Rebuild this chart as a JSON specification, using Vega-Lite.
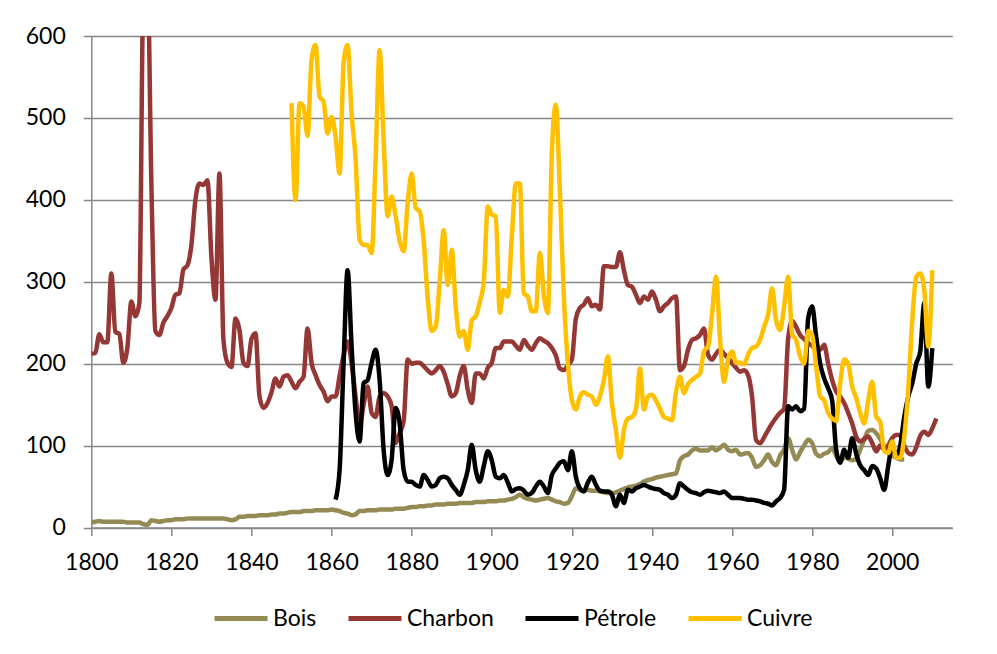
{
  "$schema": "https://vega.github.io/schema/vega-lite/v6.json",
  "width": 861,
  "height": 491.5,
  "autosize": {"type": "none"},
  "padding": {"left": 91.3, "top": 36, "right": 44.7, "bottom": 126.5},
  "background": "white",
  "config": {
    "font": "Lato",
    "view": {"stroke": null},
    "axis": {
      "labelFont": "Lato", "labelFontSize": 23, "labelColor": "#000000",
      "domainColor": "#868686", "domainWidth": 1.5,
      "tickColor": "#868686", "tickWidth": 1.5, "tickSize": 8,
      "gridColor": "#868686", "gridWidth": 1.5, "gridOpacity": 1,
      "title": null
    },
    "legend": {"labelFont": "Lato", "labelFontSize": 23, "labelColor": "#000000"}
  },
  "data": {"values": [
{"a":1800,"s":"Bois","v":6},{"a":1801,"s":"Bois","v":7},{"a":1802,"s":"Bois","v":8},{"a":1803,"s":"Bois","v":7},{"a":1804,"s":"Bois","v":7},{"a":1805,"s":"Bois","v":7},{"a":1806,"s":"Bois","v":7},{"a":1807,"s":"Bois","v":7},{"a":1808,"s":"Bois","v":7},{"a":1809,"s":"Bois","v":6},
{"a":1810,"s":"Bois","v":6},{"a":1811,"s":"Bois","v":6},{"a":1812,"s":"Bois","v":6},{"a":1813,"s":"Bois","v":4},{"a":1814,"s":"Bois","v":3},{"a":1815,"s":"Bois","v":9},{"a":1816,"s":"Bois","v":8},{"a":1817,"s":"Bois","v":7},{"a":1818,"s":"Bois","v":8},{"a":1819,"s":"Bois","v":9},
{"a":1820,"s":"Bois","v":9},{"a":1821,"s":"Bois","v":10},{"a":1822,"s":"Bois","v":10},{"a":1823,"s":"Bois","v":10},{"a":1824,"s":"Bois","v":11},{"a":1825,"s":"Bois","v":11},{"a":1826,"s":"Bois","v":11},{"a":1827,"s":"Bois","v":11},{"a":1828,"s":"Bois","v":11},{"a":1829,"s":"Bois","v":11},
{"a":1830,"s":"Bois","v":11},{"a":1831,"s":"Bois","v":11},{"a":1832,"s":"Bois","v":11},{"a":1833,"s":"Bois","v":11},{"a":1834,"s":"Bois","v":10},{"a":1835,"s":"Bois","v":9},{"a":1836,"s":"Bois","v":10},{"a":1837,"s":"Bois","v":13},{"a":1838,"s":"Bois","v":13},{"a":1839,"s":"Bois","v":14},
{"a":1840,"s":"Bois","v":14},{"a":1841,"s":"Bois","v":14},{"a":1842,"s":"Bois","v":15},{"a":1843,"s":"Bois","v":15},{"a":1844,"s":"Bois","v":15},{"a":1845,"s":"Bois","v":16},{"a":1846,"s":"Bois","v":16},{"a":1847,"s":"Bois","v":17},{"a":1848,"s":"Bois","v":17},{"a":1849,"s":"Bois","v":18},
{"a":1850,"s":"Bois","v":19},{"a":1851,"s":"Bois","v":19},{"a":1852,"s":"Bois","v":19},{"a":1853,"s":"Bois","v":20},{"a":1854,"s":"Bois","v":20},{"a":1855,"s":"Bois","v":20},{"a":1856,"s":"Bois","v":21},{"a":1857,"s":"Bois","v":21},{"a":1858,"s":"Bois","v":21},{"a":1859,"s":"Bois","v":21},
{"a":1860,"s":"Bois","v":22},{"a":1861,"s":"Bois","v":21},{"a":1862,"s":"Bois","v":20},{"a":1863,"s":"Bois","v":18},{"a":1864,"s":"Bois","v":17},{"a":1865,"s":"Bois","v":15},{"a":1866,"s":"Bois","v":16},{"a":1867,"s":"Bois","v":20},{"a":1868,"s":"Bois","v":20},{"a":1869,"s":"Bois","v":21},
{"a":1870,"s":"Bois","v":21},{"a":1871,"s":"Bois","v":21},{"a":1872,"s":"Bois","v":22},{"a":1873,"s":"Bois","v":22},{"a":1874,"s":"Bois","v":22},{"a":1875,"s":"Bois","v":22},{"a":1876,"s":"Bois","v":23},{"a":1877,"s":"Bois","v":23},{"a":1878,"s":"Bois","v":23},{"a":1879,"s":"Bois","v":24},
{"a":1880,"s":"Bois","v":25},{"a":1881,"s":"Bois","v":25},{"a":1882,"s":"Bois","v":26},{"a":1883,"s":"Bois","v":26},{"a":1884,"s":"Bois","v":27},{"a":1885,"s":"Bois","v":27},{"a":1886,"s":"Bois","v":28},{"a":1887,"s":"Bois","v":28},{"a":1888,"s":"Bois","v":28},{"a":1889,"s":"Bois","v":29},
{"a":1890,"s":"Bois","v":29},{"a":1891,"s":"Bois","v":29},{"a":1892,"s":"Bois","v":30},{"a":1893,"s":"Bois","v":30},{"a":1894,"s":"Bois","v":30},{"a":1895,"s":"Bois","v":30},{"a":1896,"s":"Bois","v":31},{"a":1897,"s":"Bois","v":31},{"a":1898,"s":"Bois","v":31},{"a":1899,"s":"Bois","v":32},
{"a":1900,"s":"Bois","v":32},{"a":1901,"s":"Bois","v":32},{"a":1902,"s":"Bois","v":33},{"a":1903,"s":"Bois","v":33},{"a":1904,"s":"Bois","v":34},{"a":1905,"s":"Bois","v":35},{"a":1906,"s":"Bois","v":37},{"a":1907,"s":"Bois","v":40},{"a":1908,"s":"Bois","v":37},{"a":1909,"s":"Bois","v":35},
{"a":1910,"s":"Bois","v":34},{"a":1911,"s":"Bois","v":33},{"a":1912,"s":"Bois","v":34},{"a":1913,"s":"Bois","v":35},{"a":1914,"s":"Bois","v":36},{"a":1915,"s":"Bois","v":34},{"a":1916,"s":"Bois","v":32},{"a":1917,"s":"Bois","v":31},{"a":1918,"s":"Bois","v":29},{"a":1919,"s":"Bois","v":30},
{"a":1920,"s":"Bois","v":38},{"a":1921,"s":"Bois","v":48},{"a":1922,"s":"Bois","v":46},{"a":1923,"s":"Bois","v":45},{"a":1924,"s":"Bois","v":46},{"a":1925,"s":"Bois","v":45},{"a":1926,"s":"Bois","v":45},{"a":1927,"s":"Bois","v":44},{"a":1928,"s":"Bois","v":43},{"a":1929,"s":"Bois","v":42},
{"a":1930,"s":"Bois","v":42},{"a":1931,"s":"Bois","v":43},{"a":1932,"s":"Bois","v":45},{"a":1933,"s":"Bois","v":47},{"a":1934,"s":"Bois","v":49},{"a":1935,"s":"Bois","v":50},{"a":1936,"s":"Bois","v":51},{"a":1937,"s":"Bois","v":53},{"a":1938,"s":"Bois","v":56},{"a":1939,"s":"Bois","v":58},
{"a":1940,"s":"Bois","v":59},{"a":1941,"s":"Bois","v":61},{"a":1942,"s":"Bois","v":62},{"a":1943,"s":"Bois","v":63},{"a":1944,"s":"Bois","v":64},{"a":1945,"s":"Bois","v":65},{"a":1946,"s":"Bois","v":66},{"a":1947,"s":"Bois","v":82},{"a":1948,"s":"Bois","v":87},{"a":1949,"s":"Bois","v":89},
{"a":1950,"s":"Bois","v":94},{"a":1951,"s":"Bois","v":96},{"a":1952,"s":"Bois","v":94},{"a":1953,"s":"Bois","v":94},{"a":1954,"s":"Bois","v":94},{"a":1955,"s":"Bois","v":98},{"a":1956,"s":"Bois","v":94},{"a":1957,"s":"Bois","v":97},{"a":1958,"s":"Bois","v":101},{"a":1959,"s":"Bois","v":95},
{"a":1960,"s":"Bois","v":93},{"a":1961,"s":"Bois","v":95},{"a":1962,"s":"Bois","v":89},{"a":1963,"s":"Bois","v":90},{"a":1964,"s":"Bois","v":91},{"a":1965,"s":"Bois","v":85},{"a":1966,"s":"Bois","v":74},{"a":1967,"s":"Bois","v":76},{"a":1968,"s":"Bois","v":82},{"a":1969,"s":"Bois","v":89},
{"a":1970,"s":"Bois","v":80},{"a":1971,"s":"Bois","v":76},{"a":1972,"s":"Bois","v":88},{"a":1973,"s":"Bois","v":95},{"a":1974,"s":"Bois","v":109},{"a":1975,"s":"Bois","v":95},{"a":1976,"s":"Bois","v":83},{"a":1977,"s":"Bois","v":92},{"a":1978,"s":"Bois","v":100},{"a":1979,"s":"Bois","v":107},
{"a":1980,"s":"Bois","v":103},{"a":1981,"s":"Bois","v":90},{"a":1982,"s":"Bois","v":87},{"a":1983,"s":"Bois","v":90},{"a":1984,"s":"Bois","v":92},{"a":1985,"s":"Bois","v":97},{"a":1986,"s":"Bois","v":88},{"a":1987,"s":"Bois","v":80},{"a":1988,"s":"Bois","v":86},{"a":1989,"s":"Bois","v":84},
{"a":1990,"s":"Bois","v":82},{"a":1991,"s":"Bois","v":84},{"a":1992,"s":"Bois","v":95},{"a":1993,"s":"Bois","v":107},{"a":1994,"s":"Bois","v":118},{"a":1995,"s":"Bois","v":119},{"a":1996,"s":"Bois","v":115},{"a":1997,"s":"Bois","v":108},{"a":1998,"s":"Bois","v":99},{"a":1999,"s":"Bois","v":92},
{"a":2000,"s":"Bois","v":88},{"a":2001,"s":"Bois","v":85},{"a":2002,"s":"Bois","v":83},{"a":2003,"s":"Bois","v":83},
{"a":1800,"s":"Charbon","v":212},{"a":1801,"s":"Charbon","v":213},{"a":1802,"s":"Charbon","v":236},{"a":1803,"s":"Charbon","v":226},{"a":1804,"s":"Charbon","v":226},{"a":1805,"s":"Charbon","v":310},{"a":1806,"s":"Charbon","v":239},{"a":1807,"s":"Charbon","v":236},{"a":1808,"s":"Charbon","v":201},{"a":1809,"s":"Charbon","v":219},
{"a":1810,"s":"Charbon","v":276},{"a":1811,"s":"Charbon","v":258},{"a":1812,"s":"Charbon","v":274},{"a":1813,"s":"Charbon","v":660},{"a":1814,"s":"Charbon","v":680},{"a":1815,"s":"Charbon","v":420},{"a":1816,"s":"Charbon","v":240},{"a":1817,"s":"Charbon","v":235},{"a":1818,"s":"Charbon","v":250},{"a":1819,"s":"Charbon","v":258},
{"a":1820,"s":"Charbon","v":268},{"a":1821,"s":"Charbon","v":284},{"a":1822,"s":"Charbon","v":286},{"a":1823,"s":"Charbon","v":315},{"a":1824,"s":"Charbon","v":320},{"a":1825,"s":"Charbon","v":345},{"a":1826,"s":"Charbon","v":400},{"a":1827,"s":"Charbon","v":420},{"a":1828,"s":"Charbon","v":418},{"a":1829,"s":"Charbon","v":424},
{"a":1830,"s":"Charbon","v":330},{"a":1831,"s":"Charbon","v":278},{"a":1832,"s":"Charbon","v":432},{"a":1833,"s":"Charbon","v":229},{"a":1834,"s":"Charbon","v":201},{"a":1835,"s":"Charbon","v":196},{"a":1836,"s":"Charbon","v":255},{"a":1837,"s":"Charbon","v":241},{"a":1838,"s":"Charbon","v":201},{"a":1839,"s":"Charbon","v":197},
{"a":1840,"s":"Charbon","v":230},{"a":1841,"s":"Charbon","v":237},{"a":1842,"s":"Charbon","v":160},{"a":1843,"s":"Charbon","v":146},{"a":1844,"s":"Charbon","v":152},{"a":1845,"s":"Charbon","v":165},{"a":1846,"s":"Charbon","v":182},{"a":1847,"s":"Charbon","v":172},{"a":1848,"s":"Charbon","v":184},{"a":1849,"s":"Charbon","v":186},
{"a":1850,"s":"Charbon","v":178},{"a":1851,"s":"Charbon","v":170},{"a":1852,"s":"Charbon","v":178},{"a":1853,"s":"Charbon","v":184},{"a":1854,"s":"Charbon","v":243},{"a":1855,"s":"Charbon","v":201},{"a":1856,"s":"Charbon","v":186},{"a":1857,"s":"Charbon","v":174},{"a":1858,"s":"Charbon","v":166},{"a":1859,"s":"Charbon","v":154},
{"a":1860,"s":"Charbon","v":160},{"a":1861,"s":"Charbon","v":160},{"a":1862,"s":"Charbon","v":185},{"a":1863,"s":"Charbon","v":210},{"a":1864,"s":"Charbon","v":227},{"a":1865,"s":"Charbon","v":200},{"a":1866,"s":"Charbon","v":160},{"a":1867,"s":"Charbon","v":125},{"a":1868,"s":"Charbon","v":150},{"a":1869,"s":"Charbon","v":172},
{"a":1870,"s":"Charbon","v":140},{"a":1871,"s":"Charbon","v":135},{"a":1872,"s":"Charbon","v":160},{"a":1873,"s":"Charbon","v":164},{"a":1874,"s":"Charbon","v":160},{"a":1875,"s":"Charbon","v":148},{"a":1876,"s":"Charbon","v":103},{"a":1877,"s":"Charbon","v":115},{"a":1878,"s":"Charbon","v":130},{"a":1879,"s":"Charbon","v":205},
{"a":1880,"s":"Charbon","v":200},{"a":1881,"s":"Charbon","v":201},{"a":1882,"s":"Charbon","v":201},{"a":1883,"s":"Charbon","v":197},{"a":1884,"s":"Charbon","v":192},{"a":1885,"s":"Charbon","v":188},{"a":1886,"s":"Charbon","v":192},{"a":1887,"s":"Charbon","v":197},{"a":1888,"s":"Charbon","v":190},{"a":1889,"s":"Charbon","v":175},
{"a":1890,"s":"Charbon","v":160},{"a":1891,"s":"Charbon","v":164},{"a":1892,"s":"Charbon","v":185},{"a":1893,"s":"Charbon","v":197},{"a":1894,"s":"Charbon","v":168},{"a":1895,"s":"Charbon","v":152},{"a":1896,"s":"Charbon","v":188},{"a":1897,"s":"Charbon","v":188},{"a":1898,"s":"Charbon","v":182},{"a":1899,"s":"Charbon","v":195},
{"a":1900,"s":"Charbon","v":201},{"a":1901,"s":"Charbon","v":219},{"a":1902,"s":"Charbon","v":219},{"a":1903,"s":"Charbon","v":227},{"a":1904,"s":"Charbon","v":227},{"a":1905,"s":"Charbon","v":227},{"a":1906,"s":"Charbon","v":222},{"a":1907,"s":"Charbon","v":217},{"a":1908,"s":"Charbon","v":229},{"a":1909,"s":"Charbon","v":222},
{"a":1910,"s":"Charbon","v":217},{"a":1911,"s":"Charbon","v":225},{"a":1912,"s":"Charbon","v":231},{"a":1913,"s":"Charbon","v":228},{"a":1914,"s":"Charbon","v":225},{"a":1915,"s":"Charbon","v":219},{"a":1916,"s":"Charbon","v":210},{"a":1917,"s":"Charbon","v":194},{"a":1918,"s":"Charbon","v":192},{"a":1919,"s":"Charbon","v":198},
{"a":1920,"s":"Charbon","v":205},{"a":1921,"s":"Charbon","v":255},{"a":1922,"s":"Charbon","v":268},{"a":1923,"s":"Charbon","v":272},{"a":1924,"s":"Charbon","v":280},{"a":1925,"s":"Charbon","v":270},{"a":1926,"s":"Charbon","v":272},{"a":1927,"s":"Charbon","v":266},{"a":1928,"s":"Charbon","v":319},{"a":1929,"s":"Charbon","v":319},
{"a":1930,"s":"Charbon","v":318},{"a":1931,"s":"Charbon","v":318},{"a":1932,"s":"Charbon","v":336},{"a":1933,"s":"Charbon","v":314},{"a":1934,"s":"Charbon","v":296},{"a":1935,"s":"Charbon","v":294},{"a":1936,"s":"Charbon","v":284},{"a":1937,"s":"Charbon","v":274},{"a":1938,"s":"Charbon","v":282},{"a":1939,"s":"Charbon","v":278},
{"a":1940,"s":"Charbon","v":288},{"a":1941,"s":"Charbon","v":278},{"a":1942,"s":"Charbon","v":264},{"a":1943,"s":"Charbon","v":270},{"a":1944,"s":"Charbon","v":274},{"a":1945,"s":"Charbon","v":280},{"a":1946,"s":"Charbon","v":282},{"a":1947,"s":"Charbon","v":192},{"a":1948,"s":"Charbon","v":197},{"a":1949,"s":"Charbon","v":217},
{"a":1950,"s":"Charbon","v":229},{"a":1951,"s":"Charbon","v":231},{"a":1952,"s":"Charbon","v":235},{"a":1953,"s":"Charbon","v":243},{"a":1954,"s":"Charbon","v":211},{"a":1955,"s":"Charbon","v":205},{"a":1956,"s":"Charbon","v":212},{"a":1957,"s":"Charbon","v":217},{"a":1958,"s":"Charbon","v":212},{"a":1959,"s":"Charbon","v":207},
{"a":1960,"s":"Charbon","v":201},{"a":1961,"s":"Charbon","v":195},{"a":1962,"s":"Charbon","v":190},{"a":1963,"s":"Charbon","v":192},{"a":1964,"s":"Charbon","v":186},{"a":1965,"s":"Charbon","v":160},{"a":1966,"s":"Charbon","v":107},{"a":1967,"s":"Charbon","v":103},{"a":1968,"s":"Charbon","v":110},{"a":1969,"s":"Charbon","v":119},
{"a":1970,"s":"Charbon","v":127},{"a":1971,"s":"Charbon","v":134},{"a":1972,"s":"Charbon","v":140},{"a":1973,"s":"Charbon","v":145},{"a":1974,"s":"Charbon","v":230},{"a":1975,"s":"Charbon","v":252},{"a":1976,"s":"Charbon","v":245},{"a":1977,"s":"Charbon","v":235},{"a":1978,"s":"Charbon","v":230},{"a":1979,"s":"Charbon","v":225},
{"a":1980,"s":"Charbon","v":222},{"a":1981,"s":"Charbon","v":217},{"a":1982,"s":"Charbon","v":217},{"a":1983,"s":"Charbon","v":223},{"a":1984,"s":"Charbon","v":200},{"a":1985,"s":"Charbon","v":180},{"a":1986,"s":"Charbon","v":166},{"a":1987,"s":"Charbon","v":160},{"a":1988,"s":"Charbon","v":152},{"a":1989,"s":"Charbon","v":140},
{"a":1990,"s":"Charbon","v":127},{"a":1991,"s":"Charbon","v":111},{"a":1992,"s":"Charbon","v":105},{"a":1993,"s":"Charbon","v":108},{"a":1994,"s":"Charbon","v":111},{"a":1995,"s":"Charbon","v":103},{"a":1996,"s":"Charbon","v":93},{"a":1997,"s":"Charbon","v":100},{"a":1998,"s":"Charbon","v":95},{"a":1999,"s":"Charbon","v":100},
{"a":2000,"s":"Charbon","v":109},{"a":2001,"s":"Charbon","v":113},{"a":2002,"s":"Charbon","v":113},{"a":2003,"s":"Charbon","v":100},{"a":2004,"s":"Charbon","v":91},{"a":2005,"s":"Charbon","v":89},{"a":2006,"s":"Charbon","v":98},{"a":2007,"s":"Charbon","v":112},{"a":2008,"s":"Charbon","v":117},{"a":2009,"s":"Charbon","v":113},
{"a":2010,"s":"Charbon","v":121},{"a":2011,"s":"Charbon","v":133},
{"a":1861,"s":"Pétrole","v":34},{"a":1862,"s":"Pétrole","v":70},{"a":1863,"s":"Pétrole","v":201},{"a":1864,"s":"Pétrole","v":314},{"a":1865,"s":"Pétrole","v":221},{"a":1866,"s":"Pétrole","v":140},{"a":1867,"s":"Pétrole","v":105},{"a":1868,"s":"Pétrole","v":176},{"a":1869,"s":"Pétrole","v":180},
{"a":1870,"s":"Pétrole","v":201},{"a":1871,"s":"Pétrole","v":217},{"a":1872,"s":"Pétrole","v":180},{"a":1873,"s":"Pétrole","v":95},{"a":1874,"s":"Pétrole","v":64},{"a":1875,"s":"Pétrole","v":83},{"a":1876,"s":"Pétrole","v":146},{"a":1877,"s":"Pétrole","v":127},{"a":1878,"s":"Pétrole","v":70},{"a":1879,"s":"Pétrole","v":56},
{"a":1880,"s":"Pétrole","v":56},{"a":1881,"s":"Pétrole","v":52},{"a":1882,"s":"Pétrole","v":50},{"a":1883,"s":"Pétrole","v":64},{"a":1884,"s":"Pétrole","v":58},{"a":1885,"s":"Pétrole","v":50},{"a":1886,"s":"Pétrole","v":52},{"a":1887,"s":"Pétrole","v":60},{"a":1888,"s":"Pétrole","v":62},{"a":1889,"s":"Pétrole","v":60},
{"a":1890,"s":"Pétrole","v":52},{"a":1891,"s":"Pétrole","v":46},{"a":1892,"s":"Pétrole","v":40},{"a":1893,"s":"Pétrole","v":52},{"a":1894,"s":"Pétrole","v":70},{"a":1895,"s":"Pétrole","v":101},{"a":1896,"s":"Pétrole","v":70},{"a":1897,"s":"Pétrole","v":56},{"a":1898,"s":"Pétrole","v":75},{"a":1899,"s":"Pétrole","v":93},
{"a":1900,"s":"Pétrole","v":82},{"a":1901,"s":"Pétrole","v":62},{"a":1902,"s":"Pétrole","v":60},{"a":1903,"s":"Pétrole","v":64},{"a":1904,"s":"Pétrole","v":55},{"a":1905,"s":"Pétrole","v":44},{"a":1906,"s":"Pétrole","v":47},{"a":1907,"s":"Pétrole","v":48},{"a":1908,"s":"Pétrole","v":45},{"a":1909,"s":"Pétrole","v":40},
{"a":1910,"s":"Pétrole","v":42},{"a":1911,"s":"Pétrole","v":50},{"a":1912,"s":"Pétrole","v":56},{"a":1913,"s":"Pétrole","v":50},{"a":1914,"s":"Pétrole","v":42},{"a":1915,"s":"Pétrole","v":64},{"a":1916,"s":"Pétrole","v":72},{"a":1917,"s":"Pétrole","v":79},{"a":1918,"s":"Pétrole","v":81},{"a":1919,"s":"Pétrole","v":70},
{"a":1920,"s":"Pétrole","v":93},{"a":1921,"s":"Pétrole","v":62},{"a":1922,"s":"Pétrole","v":48},{"a":1923,"s":"Pétrole","v":44},{"a":1924,"s":"Pétrole","v":55},{"a":1925,"s":"Pétrole","v":62},{"a":1926,"s":"Pétrole","v":52},{"a":1927,"s":"Pétrole","v":45},{"a":1928,"s":"Pétrole","v":44},{"a":1929,"s":"Pétrole","v":44},
{"a":1930,"s":"Pétrole","v":40},{"a":1931,"s":"Pétrole","v":26},{"a":1932,"s":"Pétrole","v":40},{"a":1933,"s":"Pétrole","v":30},{"a":1934,"s":"Pétrole","v":46},{"a":1935,"s":"Pétrole","v":44},{"a":1936,"s":"Pétrole","v":48},{"a":1937,"s":"Pétrole","v":50},{"a":1938,"s":"Pétrole","v":52},{"a":1939,"s":"Pétrole","v":50},
{"a":1940,"s":"Pétrole","v":48},{"a":1941,"s":"Pétrole","v":47},{"a":1942,"s":"Pétrole","v":46},{"a":1943,"s":"Pétrole","v":42},{"a":1944,"s":"Pétrole","v":40},{"a":1945,"s":"Pétrole","v":36},{"a":1946,"s":"Pétrole","v":40},{"a":1947,"s":"Pétrole","v":54},{"a":1948,"s":"Pétrole","v":50},{"a":1949,"s":"Pétrole","v":46},
{"a":1950,"s":"Pétrole","v":43},{"a":1951,"s":"Pétrole","v":42},{"a":1952,"s":"Pétrole","v":40},{"a":1953,"s":"Pétrole","v":43},{"a":1954,"s":"Pétrole","v":45},{"a":1955,"s":"Pétrole","v":44},{"a":1956,"s":"Pétrole","v":43},{"a":1957,"s":"Pétrole","v":42},{"a":1958,"s":"Pétrole","v":44},{"a":1959,"s":"Pétrole","v":40},
{"a":1960,"s":"Pétrole","v":36},{"a":1961,"s":"Pétrole","v":36},{"a":1962,"s":"Pétrole","v":36},{"a":1963,"s":"Pétrole","v":35},{"a":1964,"s":"Pétrole","v":34},{"a":1965,"s":"Pétrole","v":34},{"a":1966,"s":"Pétrole","v":33},{"a":1967,"s":"Pétrole","v":32},{"a":1968,"s":"Pétrole","v":30},{"a":1969,"s":"Pétrole","v":29},
{"a":1970,"s":"Pétrole","v":27},{"a":1971,"s":"Pétrole","v":32},{"a":1972,"s":"Pétrole","v":36},{"a":1973,"s":"Pétrole","v":46},{"a":1974,"s":"Pétrole","v":148},{"a":1975,"s":"Pétrole","v":144},{"a":1976,"s":"Pétrole","v":148},{"a":1977,"s":"Pétrole","v":142},{"a":1978,"s":"Pétrole","v":145},{"a":1979,"s":"Pétrole","v":255},
{"a":1980,"s":"Pétrole","v":270},{"a":1981,"s":"Pétrole","v":233},{"a":1982,"s":"Pétrole","v":200},{"a":1983,"s":"Pétrole","v":182},{"a":1984,"s":"Pétrole","v":170},{"a":1985,"s":"Pétrole","v":155},{"a":1986,"s":"Pétrole","v":95},{"a":1987,"s":"Pétrole","v":79},{"a":1988,"s":"Pétrole","v":95},{"a":1989,"s":"Pétrole","v":85},
{"a":1990,"s":"Pétrole","v":109},{"a":1991,"s":"Pétrole","v":90},{"a":1992,"s":"Pétrole","v":76},{"a":1993,"s":"Pétrole","v":70},{"a":1994,"s":"Pétrole","v":64},{"a":1995,"s":"Pétrole","v":75},{"a":1996,"s":"Pétrole","v":72},{"a":1997,"s":"Pétrole","v":60},{"a":1998,"s":"Pétrole","v":46},{"a":1999,"s":"Pétrole","v":75},
{"a":2000,"s":"Pétrole","v":100},{"a":2001,"s":"Pétrole","v":87},{"a":2002,"s":"Pétrole","v":100},{"a":2003,"s":"Pétrole","v":135},{"a":2004,"s":"Pétrole","v":160},{"a":2005,"s":"Pétrole","v":176},{"a":2006,"s":"Pétrole","v":200},{"a":2007,"s":"Pétrole","v":215},{"a":2008,"s":"Pétrole","v":274},{"a":2009,"s":"Pétrole","v":172},
{"a":2010,"s":"Pétrole","v":219},
{"a":1850,"s":"Cuivre","v":518},{"a":1851,"s":"Cuivre","v":400},{"a":1852,"s":"Cuivre","v":518},{"a":1853,"s":"Cuivre","v":514},{"a":1854,"s":"Cuivre","v":478},{"a":1855,"s":"Cuivre","v":571},{"a":1856,"s":"Cuivre","v":589},{"a":1857,"s":"Cuivre","v":526},{"a":1858,"s":"Cuivre","v":520},{"a":1859,"s":"Cuivre","v":481},
{"a":1860,"s":"Cuivre","v":501},{"a":1861,"s":"Cuivre","v":477},{"a":1862,"s":"Cuivre","v":432},{"a":1863,"s":"Cuivre","v":567},{"a":1864,"s":"Cuivre","v":589},{"a":1865,"s":"Cuivre","v":505},{"a":1866,"s":"Cuivre","v":450},{"a":1867,"s":"Cuivre","v":351},{"a":1868,"s":"Cuivre","v":345},{"a":1869,"s":"Cuivre","v":345},
{"a":1870,"s":"Cuivre","v":335},{"a":1871,"s":"Cuivre","v":450},{"a":1872,"s":"Cuivre","v":583},{"a":1873,"s":"Cuivre","v":473},{"a":1874,"s":"Cuivre","v":380},{"a":1875,"s":"Cuivre","v":404},{"a":1876,"s":"Cuivre","v":380},{"a":1877,"s":"Cuivre","v":350},{"a":1878,"s":"Cuivre","v":337},{"a":1879,"s":"Cuivre","v":396},
{"a":1880,"s":"Cuivre","v":432},{"a":1881,"s":"Cuivre","v":390},{"a":1882,"s":"Cuivre","v":386},{"a":1883,"s":"Cuivre","v":350},{"a":1884,"s":"Cuivre","v":280},{"a":1885,"s":"Cuivre","v":240},{"a":1886,"s":"Cuivre","v":245},{"a":1887,"s":"Cuivre","v":300},{"a":1888,"s":"Cuivre","v":363},{"a":1889,"s":"Cuivre","v":296},
{"a":1890,"s":"Cuivre","v":339},{"a":1891,"s":"Cuivre","v":270},{"a":1892,"s":"Cuivre","v":233},{"a":1893,"s":"Cuivre","v":240},{"a":1894,"s":"Cuivre","v":217},{"a":1895,"s":"Cuivre","v":253},{"a":1896,"s":"Cuivre","v":258},{"a":1897,"s":"Cuivre","v":275},{"a":1898,"s":"Cuivre","v":300},{"a":1899,"s":"Cuivre","v":392},
{"a":1900,"s":"Cuivre","v":382},{"a":1901,"s":"Cuivre","v":380},{"a":1902,"s":"Cuivre","v":262},{"a":1903,"s":"Cuivre","v":290},{"a":1904,"s":"Cuivre","v":282},{"a":1905,"s":"Cuivre","v":355},{"a":1906,"s":"Cuivre","v":420},{"a":1907,"s":"Cuivre","v":420},{"a":1908,"s":"Cuivre","v":286},{"a":1909,"s":"Cuivre","v":282},
{"a":1910,"s":"Cuivre","v":264},{"a":1911,"s":"Cuivre","v":264},{"a":1912,"s":"Cuivre","v":335},{"a":1913,"s":"Cuivre","v":284},{"a":1914,"s":"Cuivre","v":262},{"a":1915,"s":"Cuivre","v":457},{"a":1916,"s":"Cuivre","v":516},{"a":1917,"s":"Cuivre","v":412},{"a":1918,"s":"Cuivre","v":282},{"a":1919,"s":"Cuivre","v":201},
{"a":1920,"s":"Cuivre","v":156},{"a":1921,"s":"Cuivre","v":144},{"a":1922,"s":"Cuivre","v":160},{"a":1923,"s":"Cuivre","v":165},{"a":1924,"s":"Cuivre","v":162},{"a":1925,"s":"Cuivre","v":160},{"a":1926,"s":"Cuivre","v":150},{"a":1927,"s":"Cuivre","v":160},{"a":1928,"s":"Cuivre","v":180},{"a":1929,"s":"Cuivre","v":209},
{"a":1930,"s":"Cuivre","v":152},{"a":1931,"s":"Cuivre","v":119},{"a":1932,"s":"Cuivre","v":85},{"a":1933,"s":"Cuivre","v":119},{"a":1934,"s":"Cuivre","v":133},{"a":1935,"s":"Cuivre","v":135},{"a":1936,"s":"Cuivre","v":144},{"a":1937,"s":"Cuivre","v":194},{"a":1938,"s":"Cuivre","v":144},{"a":1939,"s":"Cuivre","v":160},
{"a":1940,"s":"Cuivre","v":162},{"a":1941,"s":"Cuivre","v":155},{"a":1942,"s":"Cuivre","v":145},{"a":1943,"s":"Cuivre","v":135},{"a":1944,"s":"Cuivre","v":133},{"a":1945,"s":"Cuivre","v":131},{"a":1946,"s":"Cuivre","v":165},{"a":1947,"s":"Cuivre","v":184},{"a":1948,"s":"Cuivre","v":164},{"a":1949,"s":"Cuivre","v":175},
{"a":1950,"s":"Cuivre","v":180},{"a":1951,"s":"Cuivre","v":184},{"a":1952,"s":"Cuivre","v":188},{"a":1953,"s":"Cuivre","v":215},{"a":1954,"s":"Cuivre","v":221},{"a":1955,"s":"Cuivre","v":260},{"a":1956,"s":"Cuivre","v":306},{"a":1957,"s":"Cuivre","v":230},{"a":1958,"s":"Cuivre","v":178},{"a":1959,"s":"Cuivre","v":205},
{"a":1960,"s":"Cuivre","v":215},{"a":1961,"s":"Cuivre","v":201},{"a":1962,"s":"Cuivre","v":201},{"a":1963,"s":"Cuivre","v":199},{"a":1964,"s":"Cuivre","v":211},{"a":1965,"s":"Cuivre","v":219},{"a":1966,"s":"Cuivre","v":221},{"a":1967,"s":"Cuivre","v":229},{"a":1968,"s":"Cuivre","v":245},{"a":1969,"s":"Cuivre","v":260},
{"a":1970,"s":"Cuivre","v":292},{"a":1971,"s":"Cuivre","v":253},{"a":1972,"s":"Cuivre","v":241},{"a":1973,"s":"Cuivre","v":270},{"a":1974,"s":"Cuivre","v":306},{"a":1975,"s":"Cuivre","v":236},{"a":1976,"s":"Cuivre","v":229},{"a":1977,"s":"Cuivre","v":209},{"a":1978,"s":"Cuivre","v":200},{"a":1979,"s":"Cuivre","v":240},
{"a":1980,"s":"Cuivre","v":235},{"a":1981,"s":"Cuivre","v":197},{"a":1982,"s":"Cuivre","v":160},{"a":1983,"s":"Cuivre","v":155},{"a":1984,"s":"Cuivre","v":140},{"a":1985,"s":"Cuivre","v":133},{"a":1986,"s":"Cuivre","v":130},{"a":1987,"s":"Cuivre","v":176},{"a":1988,"s":"Cuivre","v":205},{"a":1989,"s":"Cuivre","v":200},
{"a":1990,"s":"Cuivre","v":172},{"a":1991,"s":"Cuivre","v":158},{"a":1992,"s":"Cuivre","v":140},{"a":1993,"s":"Cuivre","v":127},{"a":1994,"s":"Cuivre","v":155},{"a":1995,"s":"Cuivre","v":178},{"a":1996,"s":"Cuivre","v":135},{"a":1997,"s":"Cuivre","v":129},{"a":1998,"s":"Cuivre","v":93},{"a":1999,"s":"Cuivre","v":91},
{"a":2000,"s":"Cuivre","v":105},{"a":2001,"s":"Cuivre","v":85},{"a":2002,"s":"Cuivre","v":85},{"a":2003,"s":"Cuivre","v":111},{"a":2004,"s":"Cuivre","v":168},{"a":2005,"s":"Cuivre","v":253},{"a":2006,"s":"Cuivre","v":306},{"a":2007,"s":"Cuivre","v":310},{"a":2008,"s":"Cuivre","v":290},{"a":2009,"s":"Cuivre","v":221},
{"a":2010,"s":"Cuivre","v":314}
  ]},
  "mark": {"type": "line", "strokeWidth": 4.5, "interpolate": "monotone", "clip": true},
  "encoding": {
    "x": {
      "field": "a", "type": "quantitative",
      "scale": {"domain": [1800, 2015], "nice": false, "zero": false},
      "axis": {
        "values": [1800, 1820, 1840, 1860, 1880, 1900, 1920, 1940, 1960, 1980, 2000],
        "format": "d", "grid": false, "labelPadding": 16, "labelFlush": false
      }
    },
    "y": {
      "field": "v", "type": "quantitative",
      "scale": {"domain": [0, 600], "nice": false},
      "axis": {"values": [0, 100, 200, 300, 400, 500, 600], "grid": true, "labelPadding": 18}
    },
    "color": {
      "field": "s", "type": "nominal",
      "scale": {"domain": ["Bois", "Charbon", "Pétrole", "Cuivre"], "range": ["#948A54", "#953735", "#000000", "#FFC000"]},
      "legend": {
        "title": null, "orient": "none", "direction": "horizontal",
        "legendX": 120.7, "legendY": 553.5, "padding": 0,
        "symbolType": "stroke", "symbolSize": 2809, "symbolStrokeWidth": 5,
        "labelOffset": 3, "columnPadding": 21
      }
    }
  }
}
